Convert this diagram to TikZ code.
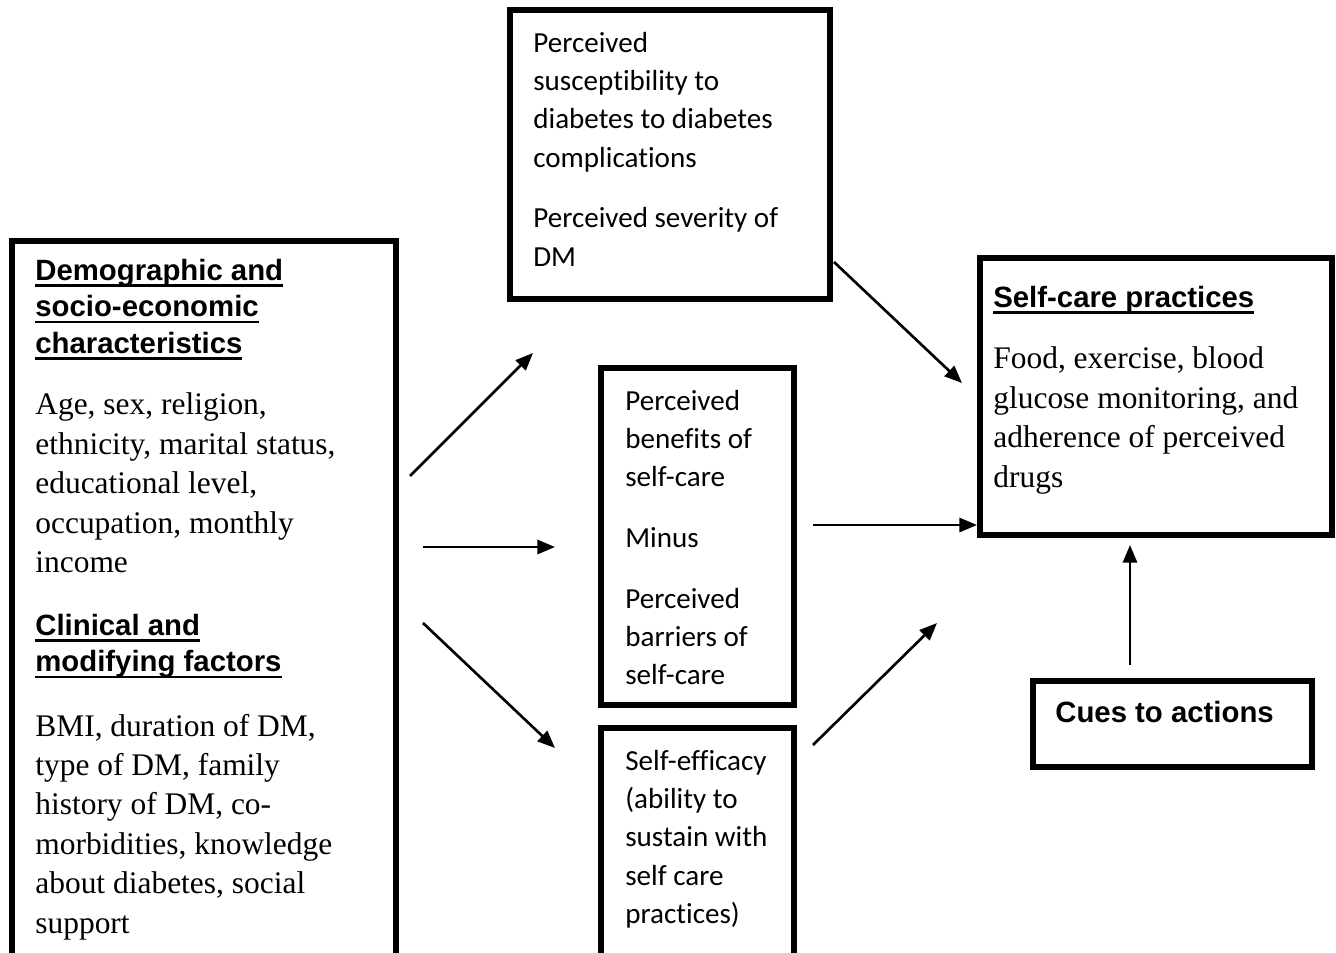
\documentclass[tikz,border=0pt]{standalone}
\usepackage{fontspec}
\setmainfont{Liberation Serif}
\setsansfont{Liberation Sans}
\newfontfamily\calibri[Ligatures=NoCommon]{Carlito}
\usepackage{tikz}
\usetikzlibrary{arrows.meta,positioning}
\newcommand{\ulhead}[1]{\setbox0=\hbox{#1}\rlap{\rule[-3.6pt]{\wd0}{1.5pt}}\box0}
\tikzset{
  frame/.style={
    draw=black,fill=white,line width=3.4pt,inner sep=0pt
  },
  headtext/.style={
    anchor=north west,inner sep=0pt,align=left,
    font=\sffamily\bfseries\fontsize{16.7}{20.7}\selectfont
  },
  bodytext/.style={
    anchor=north west,inner sep=0pt,align=left,
    font=\rmfamily\fontsize{17.9}{22.45}\selectfont
  },
  calitext/.style={
    anchor=north west,inner sep=0pt,align=left,
    font=\calibri\fontsize{16.55}{21.8}\selectfont
  },
  arrow/.style={-{Triangle[length=10pt,width=8pt]},draw=black,line width=1.5pt}
}

\begin{document}
\begin{tikzpicture}[x=0.02cm,y=-0.02cm]
\useasboundingbox (0,0) rectangle (1336,953);

% frames
\node[frame,minimum width=7.68cm,minimum height=14.78cm] (demo) at (204,610.5) {};
\node[frame,minimum width=6.4cm,minimum height=5.78cm] (threat) at (670,154.5) {};
\node[frame,minimum width=3.86cm,minimum height=6.74cm] (benefit) at (697.5,536.5) {};
\node[frame,minimum width=3.86cm,minimum height=5.04cm] (efficacy) at (697.5,854) {};
\node[frame,minimum width=7.04cm,minimum height=5.54cm] (practice) at (1156,396.5) {};
\node[frame,minimum width=5.58cm,minimum height=1.72cm] (cues) at (1172.5,724) {};

% modifying factors
\node[headtext] (demohead) at (35,259)
{\ulhead{Demographic and}\\\ulhead{socio-economic}\\\ulhead{characteristics}};
\node[bodytext] (demotext) at (35,392.5)
{Age, sex, religion,\\ethnicity, marital status,\\educational level,\\occupation, monthly\\income};
\node[headtext] (clinhead) at (35,614)
{\ulhead{Clinical and}\\\ulhead{modifying factors}};
\node[bodytext] (clintext) at (35,713.5)
{BMI, duration of DM,\\type of DM, family\\history of DM, co-\\morbidities, knowledge\\about diabetes, social\\support};

% perceptions
\node[calitext] (threattext) at (533,31.6)
{Perceived\\susceptibility to\\diabetes to diabetes\\complications\\[12.8pt]Perceived severity of\\DM};
\node[calitext] (benefittext) at (625,389.6)
{Perceived\\benefits of\\self-care\\[12.8pt]Minus\\[12.8pt]Perceived\\barriers of\\self-care};
\node[calitext] (efficacytext) at (625,749.6)
{Self-efficacy\\(ability to\\sustain with\\self care\\practices)};

% outcome
\node[headtext] (practicehead) at (993,286) {\ulhead{Self-care practices}};
\node[bodytext] (practicetext) at (993,346.5)
{Food, exercise, blood\\glucose monitoring, and\\adherence of perceived\\drugs};
\node[headtext] (cuestext) at (1055,701) {Cues to actions};

% arrow ends
\coordinate (a1s) at (410,476);  \coordinate (a1e) at (533,353);
\coordinate (a2s) at (423,547);  \coordinate (a2e) at (555,547);
\coordinate (a3s) at (423,623);  \coordinate (a3e) at (555,748);
\coordinate (a4s) at (834,262);  \coordinate (a4e) at (962,383);
\coordinate (a5s) at (813,525);  \coordinate (a5e) at (977,525);
\coordinate (a6s) at (813,745);  \coordinate (a6e) at (937,623);
\coordinate (a7s) at (1130,665); \coordinate (a7e) at (1130,545);

\draw[arrow] (a1s)--(a1e);
\draw[arrow] (a2s)--(a2e);
\draw[arrow] (a3s)--(a3e);
\draw[arrow] (a4s)--(a4e);
\draw[arrow] (a5s)--(a5e);
\draw[arrow] (a6s)--(a6e);
\draw[arrow] (a7s)--(a7e);
\end{tikzpicture}
\end{document}
